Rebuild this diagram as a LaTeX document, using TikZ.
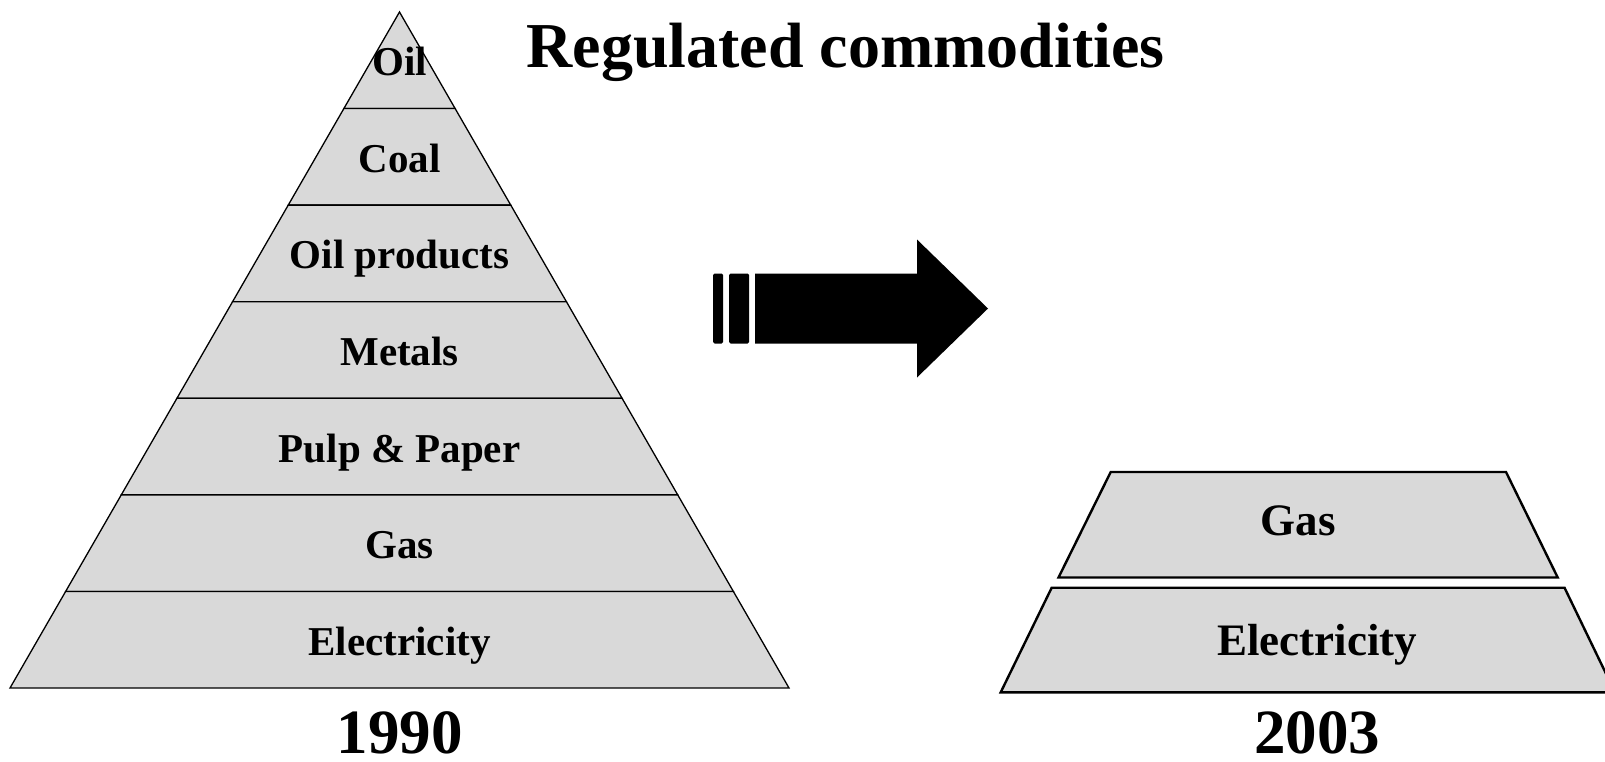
\documentclass[tikz,border=0pt]{standalone}
\usepackage{fontspec}
\setmainfont{Liberation Serif}
\definecolor{bandgray}{RGB}{217,217,217}
\begin{document}
\begin{tikzpicture}[x=1pt,y=-1pt,
  band/.style={fill=bandgray, draw=black, line width=1.3pt, line join=miter},
  rband/.style={fill=bandgray, draw=black, line width=2.4pt, line join=miter},
  lab/.style={anchor=base, inner sep=0pt, font=\fontsize{41}{41}\selectfont\bfseries},
  rlab/.style={anchor=base, inner sep=0pt, font=\fontsize{45}{45}\selectfont\bfseries},
  big/.style={anchor=base, inner sep=0pt, font=\fontsize{63}{63}\selectfont\bfseries}]
\clip (0,0) rectangle (1605,761);
\fill[white] (0,0) rectangle (1605,761);
% pyramid
\foreach \k/\lab in {0/Oil,1/Coal,2/Oil products,3/Metals,4/Pulp \& Paper,5/Gas,6/Electricity} {
  \pgfmathsetmacro\ya{12+96.5714*\k}
  \pgfmathsetmacro\yb{12+96.5714*(\k+1)}
  \pgfmathsetmacro\wa{55.643*\k}
  \pgfmathsetmacro\wb{55.643*(\k+1)}
  \pgfmathsetmacro\yl{(\ya+\yb)/2+15.5}
  \draw[band] ({399.5-\wa},\ya) -- ({399.5+\wa},\ya) -- ({399.5+\wb},\yb) -- ({399.5-\wb},\yb) -- cycle;
  \node[lab] (p\k) at (399.5,\yl) {\lab};
}
% title and years
\node[big, font=\fontsize{64}{64}\selectfont\bfseries] (title) at (845.5,67.5) {Regulated commodities};
\node[big] (y1990) at (399.7,753) {1990};
\node[big] (y2003) at (1317,753) {2003};
% arrow
\fill[rounded corners=1.5pt] (713,273.5) rectangle (723,343.5);
\fill[rounded corners=1.5pt] (729,273.5) rectangle (749,343.5);
\fill (755,273.5) -- (917,273.5) -- (917,239.5) -- (988,308.5) -- (917,377.5) -- (917,343.5) -- (755,343.5) -- cycle;
% 2003 trapezoids
\draw[rband] (1110.7,472) -- (1506,472) -- (1557.7,577.5) -- (1058.5,577.5) -- cycle;
\draw[rband] (1051.7,587.7) -- (1564.5,587.7) -- (1615,692.3) -- (1000.7,692.3) -- cycle;
\node[rlab] (rgas) at (1298,535) {Gas};
\node[rlab] (relec) at (1317,655) {Electricity};
\end{tikzpicture}
\end{document}
